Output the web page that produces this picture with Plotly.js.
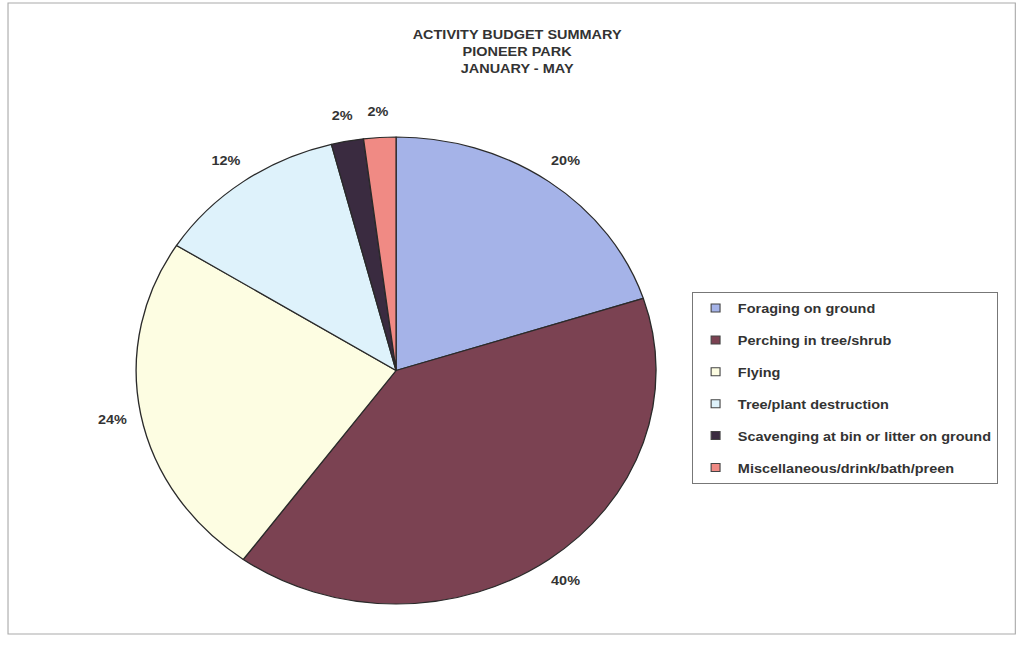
<!DOCTYPE html>
<html>
<head>
<meta charset="utf-8">
<script src="https://cdn.plot.ly/plotly-3.0.1.min.js"></script>
<style>
html,body{margin:0;padding:0;background:#fff;overflow:hidden;width:1022px;height:649px;}
#chart{width:918px;height:649px;transform:scaleX(1.1133);transform-origin:0 0;}
</style>
</head>
<body>
<div id="chart"></div>
<script>
const categories = ["Foraging on ground","Perching in tree/shrub","Flying","Tree/plant destruction","Scavenging at bin or litter on ground","Miscellaneous/drink/bath/preen"];
const values = [20, 40, 24, 12, 2, 2];
const colors = ["#a5b3e8","#7b4252","#fdfde2","#def2fb","#3a2b40","#f08a84"];

const W = 918, H = 649;
const FAM = "Liberation Sans, Arial, sans-serif";
const TXT = "#333";

// pie geometry (paper fractions)
const dom = {x: [0.1332, 0.6419], y: [0.0693, 0.7889]};
const cx = (dom.x[0] + dom.x[1]) / 2 * W;
const cy = (dom.y[0] + dom.y[1]) / 2 * H;
const r = Math.min((dom.x[1] - dom.x[0]) * W, (dom.y[1] - dom.y[0]) * H) / 2;
const labelR = r * 1.11;

const total = values.reduce((a, b) => a + b, 0);
const annotations = [];
let cum = 0;
values.forEach((v) => {
  const mid = (cum + v / 2) / total * 2 * Math.PI; // clockwise from 12 o'clock
  cum += v;
  const px = cx + labelR * Math.sin(mid);
  const py = cy + labelR * Math.cos(mid);
  annotations.push({
    xref: "paper", yref: "paper", x: px / W, y: py / H,
    xanchor: "center", yanchor: "middle", showarrow: false,
    text: "<b>" + Math.round(v / total * 100) + "%</b>",
    font: {family: FAM, size: 13, color: TXT}
  });
});

const traces = [{
  type: "pie",
  labels: categories,
  values: values,
  sort: false,
  direction: "clockwise",
  rotation: 0,
  marker: {colors: colors, line: {color: "#2a2a2a", width: 1.2}},
  textinfo: "none",
  showlegend: false,
  domain: dom,
  hoverinfo: "label+percent"
}];

categories.forEach((c, i) => {
  traces.push({
    type: "scatter", mode: "markers",
    x: [null], y: [null],
    name: "<b>" + c + "</b>",
    legendgroup: "g" + i,
    marker: {symbol: "square", size: 8, color: colors[i], line: {color: "#444", width: 1}},
    showlegend: true, hoverinfo: "skip"
  });
});

const layout = {
  width: W, height: H,
  margin: {l: 0, r: 0, t: 0, b: 0},
  paper_bgcolor: "#fff", plot_bgcolor: "#fff",
  font: {family: FAM, size: 13, color: TXT},
  title: {
    text: "<b>ACTIVITY BUDGET SUMMARY<br>PIONEER PARK<br>JANUARY - MAY</b>",
    font: {family: FAM, size: 13, color: TXT},
    x: 0.506, xanchor: "center", y: 0.94, yanchor: "middle", yref: "container"
  },
  xaxis: {visible: false, range: [0, 1]},
  yaxis: {visible: false, range: [0, 1]},
  legend: {
    x: 0.6773, xanchor: "left", y: 0.55, yanchor: "top",
    bordercolor: "#777", borderwidth: 1, bgcolor: "#fff",
    font: {family: FAM, size: 13, color: TXT},
    traceorder: "grouped", tracegroupgap: 12, itemwidth: 30
  },
  annotations: annotations,
  shapes: [{
    type: "rect", xref: "paper", yref: "paper",
    x0: 7.2 / W, x1: 912 / W, y0: 1 - 634 / H, y1: 1 - 3 / H,
    line: {color: "#aaa", width: 1}, layer: "below"
  }]
};

Plotly.newPlot("chart", traces, layout, {displayModeBar: false, staticPlot: true});
</script>
</body>
</html>
